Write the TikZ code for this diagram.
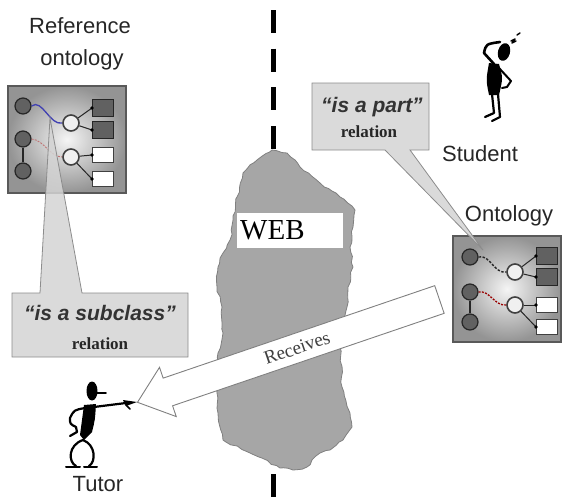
\documentclass[tikz,border=0pt]{standalone}
\usepackage{fontspec}
\setmainfont{Liberation Serif}
\setsansfont{Liberation Sans}
\usetikzlibrary{shapes.arrows,decorations.pathmorphing}

\tikzset{
  lbl/.style={font=\sffamily\fontsize{22}{26}\selectfont, inner sep=0pt, anchor=base, text=black!85},
  ontobox/.style={draw=black!65, line width=1.5pt, inner color=black!4, outer color=black!42},
  darknode/.style={circle, minimum size=16pt, inner sep=0pt, fill=black!62, draw=black!85, line width=1.2pt},
  opennode/.style={circle, minimum size=16pt, inner sep=0pt, fill=black!6, draw=black!75, line width=1.6pt},
  darkleaf/.style={rectangle, minimum width=21pt, minimum height=17pt, inner sep=0pt, fill=black!62, draw=black!85, line width=1pt},
  whiteleaf/.style={rectangle, minimum width=21pt, minimum height=15pt, inner sep=0pt, fill=white, draw=black!75, line width=1pt},
  tie/.style={black!85, line width=1pt},
  calloutfill/.style={fill=black!17, draw=black!45, line width=0.8pt, fill opacity=0.85},
  quoteword/.style={font=\sffamily\bfseries\itshape\fontsize{21}{24}\selectfont, inner sep=0pt, anchor=base, text=black!80},
  relword/.style={font=\rmfamily\bfseries\fontsize{17}{20}\selectfont, inner sep=0pt, anchor=base, text=black!85},
  ink/.style={black, line width=2.6pt, line cap=round, line join=round},
  bigarrow/.style={single arrow, draw=black!50, fill=white, line width=0.9pt,
    minimum height=319pt, minimum width=52pt, single arrow head extend=10pt,
    single arrow tip angle=78, shape border rotate=180, inner xsep=4pt, inner ysep=6pt,
    font=\rmfamily\fontsize{19}{20}\selectfont, text=black!75},
}

\begin{document}
\begin{tikzpicture}[x=1pt, y=-1pt]
\useasboundingbox (0,0) rectangle (566,499);

% dashed divider
\coordinate (divtop) at (273,10);
\coordinate (divbot) at (273,499);
\draw[line width=5pt, dash pattern=on 23pt off 15.7pt] (divtop) -- (divbot);

% the web, as a ragged island
\pgfmathsetseed{7}
\path[fill=black!35, draw=black!50, line width=0.8pt,
      decorate, decoration={random steps, segment length=5pt, amplitude=1.2pt}]
  (272,150) -- (287,153) -- (300,167) -- (320,183) -- (340,197) -- (355,210)
  -- (353,227) -- (350,247) -- (353,267) -- (348,287) -- (347,307)
  -- (340,347) -- (342,387) -- (350,413) -- (352,427) -- (343,440)
  -- (330,450) -- (320,453) -- (307,467) -- (293,470) -- (280,468)
  -- (250,453) -- (223,440) -- (218,413) -- (217,393) -- (218,353)
  -- (223,333) -- (222,307) -- (217,287) -- (218,267) -- (223,253)
  -- (230,240) -- (233,220) -- (237,197) -- (243,173) -- (257,160) -- cycle;
\node[fill=white, anchor=north west, minimum width=106pt, minimum height=35pt,
      text width=100pt, align=left, inner xsep=2pt, inner ysep=0pt,
      font=\rmfamily\fontsize{29}{30}\selectfont] (web) at (237,213) {WEB};

% Receives arrow
\node[bigarrow, rotate=18.8] (recv) at (297,348) {Receives};

% labels
\node[lbl] (reflbl) at (80,33) {Reference};
\node[lbl] (reflblb) at (82,65) {ontology};
\node[lbl] (stlbl) at (480,161) {Student};
\node[lbl] (ontlbl) at (509,221) {Ontology};
\node[lbl] (tutlbl) at (98,491) {Tutor};

% reference ontology
\shadedraw[ontobox] (8,86) rectangle (126,193);
\node[darknode] (la1) at (23,106) {};
\node[darknode] (la2) at (23,139) {};
\node[darknode] (la3) at (23,171) {};
\draw[black!85, line width=2pt] (la2) -- (la3);
\node[opennode] (lb1) at (71,123) {};
\node[opennode] (lb2) at (71,157) {};
\node[darkleaf] (ls1) at (103,108) {};
\node[darkleaf] (ls2) at (103,130) {};
\node[whiteleaf] (lw1) at (103,155) {};
\node[whiteleaf] (lw2) at (103,179) {};
\draw[blue!60!black!75, line width=1.3pt] (la1.east) .. controls (42,98) and (50,126) .. (lb1.west);
\draw[red!55!black!55, line width=0.9pt, dash pattern=on 2pt off 1.2pt] (la2.east) .. controls (44,140) and (50,157) .. (lb2.west);
\foreach \a/\b in {lb1/ls1, lb1/ls2, lb2/lw1, lb2/lw2} {
  \draw[tie] (\a) -- (\b.west);
  \fill[black] (\b.west) circle (1.8pt);
}

% student ontology
\shadedraw[ontobox] (453,236) rectangle (561,342);
\node[darknode] (ra1) at (470,257) {};
\node[darknode] (ra2) at (470,292) {};
\node[darknode] (ra3) at (470,322) {};
\draw[black!85, line width=2pt] (ra2) -- (ra3);
\node[opennode] (rb1) at (515,272) {};
\node[opennode] (rb2) at (515,305) {};
\node[darkleaf] (rs1) at (547,256) {};
\node[darkleaf] (rs2) at (547,277) {};
\node[whiteleaf] (rw1) at (547,305) {};
\node[whiteleaf] (rw2) at (547,327) {};
\draw[black!85, line width=1.4pt, dash pattern=on 2.5pt off 1.5pt] (ra1.east) .. controls (490,254) and (494,274) .. (rb1.west);
\draw[red!60!black, line width=1.3pt, dash pattern=on 2pt off 1.3pt] (ra2.east) .. controls (490,290) and (494,306) .. (rb2.west);
\foreach \a/\b in {rb1/rs1, rb1/rs2, rb2/rw1, rb2/rw2} {
  \draw[tie] (\a) -- (\b.west);
  \fill[black] (\b.west) circle (1.8pt);
}

% "is a subclass" callout
\path[calloutfill] (12,293) -- (40,293) -- (50,118) -- (82,293) -- (188,293)
  -- (188,357) -- (12,357) -- cycle;
\node[quoteword] (subq) at (100,320) {“is a subclass”};
\node[relword] (subr) at (100,349) {relation};

% "is a part" callout
\path[calloutfill] (312,83) -- (429,83) -- (429,150) -- (410,150) -- (483,250)
  -- (385,150) -- (312,150) -- cycle;
\node[quoteword] (partq) at (372,112) {“is a part”};
\node[relword] (partr) at (369,137) {relation};

% student figure
\fill[black, rotate around={-15:(504,52)}] (504,52) ellipse (6 and 9);
\draw[ink] (494,64) -- (484,53) .. controls (486,44) .. (500,42);
\fill[black] (489,63) -- (499,64) .. controls (503,78) .. (499,95) -- (489,95)
  .. controls (486,80) .. (489,63) -- cycle;
\draw[ink, line width=2pt] (499,68) -- (511,81) -- (507,87) -- (502,88);
\draw[ink, line width=2.2pt] (492,94) -- (494,113) -- (485,117);
\draw[ink, line width=2.2pt] (498,94) -- (500,117) -- (492,121);
\draw[ink, line width=1.4pt] (511,41) -- (515,39) -- (512,43) -- (516,41);
\draw[ink, line width=1.4pt] (517,35) -- (520,33);

% tutor figure
\fill[black] (92,391) ellipse (5.5 and 9.5);
\draw[ink, line width=1.8pt] (95,393) -- (106,393);
\fill[black] (84,405) -- (96,404) .. controls (95,420) .. (92,432) -- (84,440)
  -- (80,435) .. controls (82,420) .. (84,405) -- cycle;
\draw[ink, line width=2.2pt] (94,407) -- (126,403);
\fill[black] (123,400) -- (137,402) -- (126,406) -- cycle;
\draw[ink, line width=1.5pt] (126,405) -- (130,409);
\draw[ink, line width=2.2pt] (85,408) .. controls (74,410) .. (70,418)
  .. controls (70,424) .. (76,427) -- (77,432) -- (70,436);
\draw[ink, line width=2.2pt] (83,440) .. controls (68,445) and (68,462) .. (76,466);
\draw[ink, line width=2.2pt] (83,440) .. controls (96,445) and (96,462) .. (89,466);
\draw[ink, line width=2pt] (66,467) -- (80,467);
\draw[ink, line width=2pt] (84,467) -- (97,467);
\end{tikzpicture}
\end{document}
